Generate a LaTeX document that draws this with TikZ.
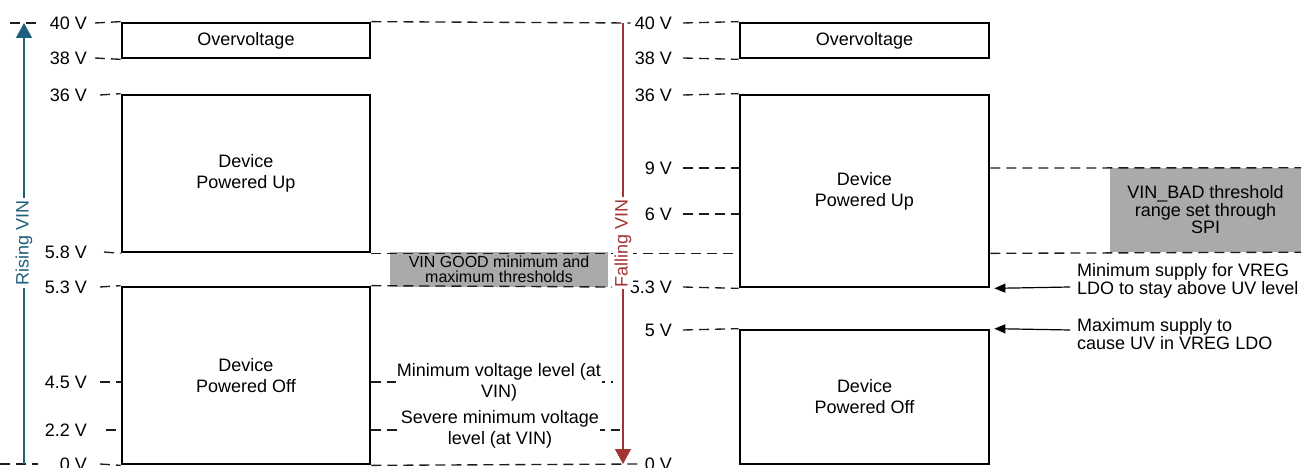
\documentclass[tikz,border=0pt]{standalone}
\usepackage{fontspec}
\setmainfont{Liberation Sans}
\usetikzlibrary{arrows.meta}
\definecolor{risec}{RGB}{30,96,124}
\definecolor{fallc}{RGB}{163,52,52}
\definecolor{grayfill}{RGB}{170,170,170}
\definecolor{guidec}{RGB}{30,30,30}
\begin{document}
\begin{tikzpicture}[x=1pt,y=-1pt,
  font=\fontsize{18}{21}\selectfont,
  pbox/.style={draw, line width=2.7pt, align=center, inner sep=0pt},
  graybx/.style={fill=grayfill, draw=none, align=center, inner sep=0pt},
  guide/.style={draw=guidec, line width=1.35pt, dash pattern=on 10pt off 6pt},
  vlabel/.style={anchor=east, inner sep=1pt},
  note/.style={fill=white, align=center, inner sep=1pt},
  ptr/.style={line width=1.2pt, -{Triangle[length=11pt,width=9pt]}},
  vin/.style={line width=1.3pt, -{Triangle[length=15pt,width=16pt]}}
]
\useasboundingbox (0,0) rectangle (1309,468);

% gray threshold boxes
\node[graybx, minimum width=218pt, minimum height=35pt, font=\fontsize{16}{15}\selectfont] (good) at (499,269.5) {VIN GOOD minimum and\\maximum thresholds};
\node[graybx, minimum width=191pt, minimum height=84pt, font=\fontsize{18}{17.5}\selectfont] (bad) at (1205.5,210) {VIN\_BAD threshold\\range set through\\SPI};

% left boxes
\node[pbox, minimum width=248pt, minimum height=35pt] (ovL) at (246,40.5) {Overvoltage};
\node[pbox, minimum width=248pt, minimum height=157pt] (upL) at (246,173.5) {Device\\Powered Up};
\node[pbox, minimum width=248pt, minimum height=177pt] (offL) at (246,375.5) {Device\\Powered Off};

% right boxes
\node[pbox, minimum width=249pt, minimum height=35pt] (ovR) at (864.5,40.5) {Overvoltage};
\node[pbox, minimum width=249pt, minimum height=192pt] (upR) at (864.5,191) {Device\\Powered Up};
\node[pbox, minimum width=249pt, minimum height=134pt] (offR) at (864.5,397) {Device\\Powered Off};

% left voltage labels
\node[vlabel] (l40) at (88,23) {40 V};
\node[vlabel] (l38) at (88,58) {38 V};
\node[vlabel] (l36) at (88,95) {36 V};
\node[vlabel] (l58) at (88,252) {5.8 V};
\node[vlabel] (l53) at (88,287) {5.3 V};
\node[vlabel] (l45) at (88,382) {4.5 V};
\node[vlabel] (l22) at (88,430) {2.2 V};
\node[vlabel] (l0) at (88,464) {0 V};

% right voltage labels
\node[vlabel] (r40) at (673,23) {40 V};
\node[vlabel] (r38) at (673,58) {38 V};
\node[vlabel] (r36) at (673,95) {36 V};
\node[vlabel] (r9) at (673,168) {9 V};
\node[vlabel] (r6) at (673,214) {6 V};
\node[vlabel] (r53) at (673,287) {5.3 V};
\node[vlabel] (r5) at (673,330) {5 V};
\node[vlabel] (r0) at (673,464) {0 V};

% coordinates for free ends
\coordinate (a1) at (10,23);
\coordinate (a2) at (38,23);
\coordinate (b1) at (0,464);
\coordinate (b2) at (38,464);
\coordinate (e53) at (612,287);
\coordinate (e45) at (613,382);
\coordinate (e22) at (620,430);
\coordinate (rb) at (24,464);
\coordinate (rt) at (24,23);
\coordinate (ft) at (623,23);
\coordinate (fb) at (623,464);
\coordinate (p1) at (1070,287);
\coordinate (p2) at (1070,330);

% left stubs
\draw[guide] (a1) -- (a2);
\draw[guide] (b1) -- (b2);
\draw[guide] ([xshift=7pt]l40.east) -- (ovL.north west);
\draw[guide] ([xshift=7pt]l38.east) -- (ovL.south west);
\draw[guide] ([xshift=12pt]l36.east) -- (upL.north west);
\draw[guide] ([xshift=16pt]l58.east) -- (upL.south west);
\draw[guide] ([xshift=12pt]l53.east) -- (offL.north west);
\draw[guide] ([xshift=12pt]l45.east) -- (l45.east -| offL.west);
\draw[guide] ([xshift=18pt]l22.east) -- (l22.east -| offL.west);
\draw[guide] ([xshift=12pt]l0.east) -- (offL.south west);

% long lines from left panel
\draw[guide] (ovL.north east) -- ([xshift=-3pt]r40.west);
\draw[guide] (upL.south east) -- (upL.south east -| upR.west);
\draw[guide] (offL.north east) -- (e53);
\draw[guide] (l45.east -| offL.east) -- (e45);
\draw[guide] (l22.east -| offL.east) -- (e22);
\draw[guide] (offL.south east) -- ([xshift=-3pt]r0.west);

% right stubs
\draw[guide] ([xshift=10pt]r40.east) -- (ovR.north west);
\draw[guide] ([xshift=10pt]r38.east) -- (ovR.south west);
\draw[guide] ([xshift=10pt]r36.east) -- (upR.north west);
\draw[guide] ([xshift=10pt]r9.east) -- (r9.east -| upR.west);
\draw[guide] ([xshift=10pt]r6.east) -- (r6.east -| upR.west);
\draw[guide] ([xshift=10pt]r53.east) -- (upR.south west);
\draw[guide] ([xshift=10pt]r5.east) -- (offR.north west);

% right side threshold lines
\draw[guide] (r9.east -| upR.east) -- (bad.north east);
\draw[guide] (upL.south east -| upR.east) -- (bad.south east);

% notes on lines
\node[note] (minv) at (499,382) {Minimum voltage level (at\\VIN)};
\node[note] (sevv) at (500,429) {Severe minimum voltage\\level (at VIN)};

% rising / falling arrows
\draw[vin, risec] (rb) -- (rt);
\node[rotate=90, fill=white, text=risec, inner sep=2pt] (rvin) at (24,243) {Rising VIN};
\draw[vin, fallc] (ft) -- (fb);
\node[rotate=90, fill=white, text=fallc, inner sep=2pt] (fvin) at (623,243) {Falling VIN};

% pointers
\draw[ptr] (p1) -- ([xshift=4pt]upR.south east);
\draw[ptr] (p2) -- ([xshift=4pt]offR.north east);
\node[anchor=west, align=left, inner sep=1pt, font=\fontsize{18}{15}\selectfont] (t1) at (1076,280.5) {Minimum supply for VREG\\LDO to stay above UV level};
\node[anchor=west, align=left, inner sep=1pt, font=\fontsize{18}{15}\selectfont] (t2) at (1076,334) {Maximum supply to\\cause UV in VREG LDO};
\end{tikzpicture}
\end{document}
